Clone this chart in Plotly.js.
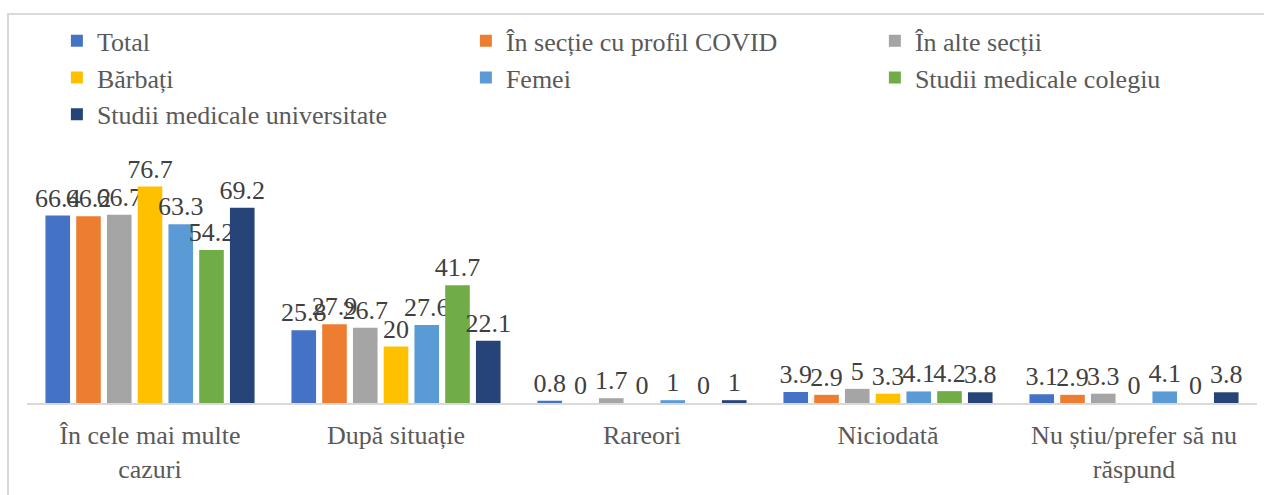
<!DOCTYPE html>
<html>
<head>
<meta charset="utf-8">
<script src="https://cdn.plot.ly/plotly-3.0.1.min.js"></script>
<style>
  body { margin: 0; background: #fff; }
  #chart { position: absolute; left: 0; top: 0; width: 1264px; height: 495px; }
  #frame { position: absolute; left: 7px; top: 13px; width: 1280px; height: 500px;
           border: 2px solid #d9d9d9; pointer-events: none; }
</style>
</head>
<body>
<div id="chart"></div>
<div id="frame"></div>
<script>
// categories and series
const categories = ['În cele mai multe<br>cazuri', 'După situație', 'Rareori', 'Niciodată', 'Nu știu/prefer să nu<br>răspund'];
const seriesNames = ['Total', 'În secție cu profil COVID', 'În alte secții', 'Bărbați', 'Femei', 'Studii medicale colegiu', 'Studii medicale universitate'];
const total = [66.4, 25.8, 0.8, 3.9, 3.1];
const covid = [66.2, 27.9, 0, 2.9, 2.9];
const alteSectii = [66.7, 26.7, 1.7, 5, 3.3];
const barbati = [76.7, 20, 0, 3.3, 0];
const femei = [63.3, 27.6, 1, 4.1, 4.1];
const colegiu = [54.2, 41.7, 0, 4.2, 0];
const universitate = [69.2, 22.1, 1, 3.8, 3.8];
const colors = ['#4472C4', '#ED7D31', '#A5A5A5', '#FFC000', '#5B9BD5', '#70AD47', '#264478'];

const allValues = [total, covid, alteSectii, barbati, femei, colegiu, universitate];

const data = allValues.map(function (vals, i) {
    return {
        type: 'bar',
        name: seriesNames[i],
        x: categories,
        y: vals,
        text: vals.map(v => String(v)),
        textposition: 'outside',
        constraintext: 'none',
        cliponaxis: false,
        textfont: { family: 'Liberation Serif', size: 26, color: '#404040' },
        marker: { color: colors[i] },
        hoverinfo: 'none'
    };
});

const layout = {
    width: 1264,
    height: 495,
    margin: { l: 27, r: 7, t: 149, b: 92 },
    paper_bgcolor: '#fff',
    plot_bgcolor: '#fff',
    font: { family: 'Liberation Serif' },
    barmode: 'group',
    bargap: 0.125,
    bargroupgap: 0.2,
    showlegend: true,
    legend: {
        orientation: 'h',
        x: 0.045,
        y: 0.965,
        xref: 'container',
        yref: 'container',
        yanchor: 'top',
        entrywidth: 364,
        traceorder: 'normal',
        font: { family: 'Liberation Serif', size: 26, color: '#595959' },
        itemwidth: 30
    },
    xaxis: {
        showline: true,
        linecolor: '#d9d9d9',
        linewidth: 2,
        ticks: '',
        ticklabelstandoff: 8,
        tickfont: { family: 'Liberation Serif', size: 26, color: '#595959' }
    },
    yaxis: {
        range: [0, 90],
        visible: false,
        showgrid: false,
        zeroline: false
    }
};

Plotly.newPlot('chart', data, layout, { staticPlot: true });
</script>
</body>
</html>
